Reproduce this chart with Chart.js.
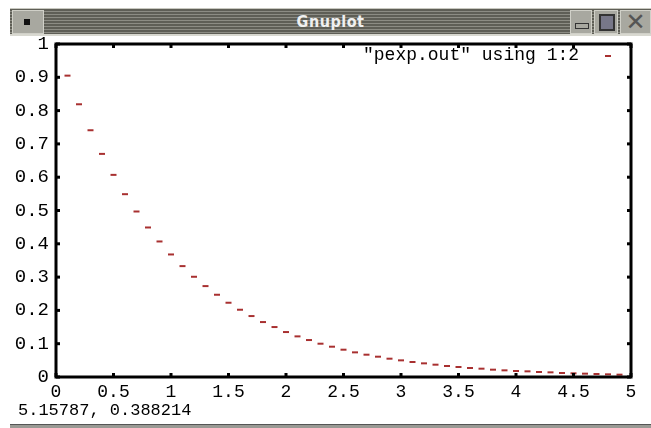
<!DOCTYPE html>
<html>
<head>
<meta charset="utf-8">
<script src="https://cdn.jsdelivr.net/npm/chart.js@4/dist/chart.umd.min.js"></script>
<style>
  body { margin: 0; background: #fff; width: 651px; height: 428px; overflow: hidden; position: relative; }
  #titlebar {
    position: absolute; left: 10px; top: 8px; width: 641px; height: 28px;
    background: repeating-linear-gradient(to bottom, #5e5e56 0px, #5e5e56 2px, #8c8c84 2px, #8c8c84 3px);
    border-top: 1px solid #c8c8c0; border-bottom: 2px solid #d8d8d0; box-sizing: border-box;
  }
  #titlebar .title {
    position: absolute; left: 0; right: 0; top: 3px; text-align: center;
    font: bold 16px "DejaVu Sans Condensed", "DejaVu Sans", sans-serif; color: #f0f0f0; letter-spacing: 0.5px;
  }
  .btn { position: absolute; top: 1px; height: 24px; background: #a8a8a0; border: 1px solid #d0d0c8; box-sizing: border-box; }
  #menu { left: 2px; width: 32px; }
  #menu::after { content: ""; position: absolute; left: 11px; top: 8px; width: 6px; height: 6px; background: #111; }
  #mini { left: 560px; width: 22px; }
  #mini::after { content: ""; position: absolute; left: 4px; bottom: 4px; width: 12px; height: 4px; border: 1px solid #333; }
  #maxi { left: 584px; width: 24px; }
  #maxi::after { content: ""; position: absolute; left: 4px; top: 3px; width: 12px; height: 13px; border: 2px solid #333; background: #778; }
  #close { left: 610px; width: 31px; font: 24px "DejaVu Sans", sans-serif; color: #555; text-align: center; line-height: 22px; }
  #legend { position: absolute; left: 363px; top: 45px; font: 18px "Liberation Mono", monospace; color: #000; }
  #status { position: absolute; left: 18px; top: 401px; font: 17px "Liberation Mono", monospace; color: #000; }
  #statusline { position: absolute; left: 10px; top: 424px; width: 641px; height: 4px; background: #9a9a94; border-top: 1px solid #555; }
  #wrap { position: absolute; left: 0; top: 0; width: 651px; height: 428px; }
</style>
</head>
<body>
<div id="wrap"><canvas id="chart" width="651" height="428"></canvas></div>
<div id="titlebar">
  <div class="title">Gnuplot</div>
  <div class="btn" id="menu"></div>
  <div class="btn" id="mini"></div>
  <div class="btn" id="maxi"></div>
  <div class="btn" id="close">✕</div>
</div>
<div id="legend">"pexp.out" using 1:2</div>
<div id="status">5.15787, 0.388214</div>
<div id="statusline"></div>
<script>
const xValues = [0.1, 0.2, 0.3, 0.4, 0.5, 0.6, 0.7, 0.8, 0.9, 1.0,
                 1.1, 1.2, 1.3, 1.4, 1.5, 1.6, 1.7, 1.8, 1.9, 2.0,
                 2.1, 2.2, 2.3, 2.4, 2.5, 2.6, 2.7, 2.8, 2.9, 3.0,
                 3.1, 3.2, 3.3, 3.4, 3.5, 3.6, 3.7, 3.8, 3.9, 4.0,
                 4.1, 4.2, 4.3, 4.4, 4.5, 4.6, 4.7, 4.8, 4.9];
const yValues = [0.905, 0.819, 0.741, 0.670, 0.607, 0.549, 0.497, 0.449, 0.407, 0.368,
                 0.333, 0.301, 0.273, 0.247, 0.223, 0.202, 0.183, 0.165, 0.150, 0.135,
                 0.122, 0.111, 0.100, 0.091, 0.082, 0.074, 0.067, 0.061, 0.055, 0.050,
                 0.045, 0.041, 0.037, 0.033, 0.030, 0.027, 0.025, 0.022, 0.020, 0.018,
                 0.017, 0.015, 0.014, 0.012, 0.011, 0.010, 0.009, 0.008, 0.007];
const xTicks = [0, 0.5, 1, 1.5, 2, 2.5, 3, 3.5, 4, 4.5, 5];
const yTicks = [0, 0.1, 0.2, 0.3, 0.4, 0.5, 0.6, 0.7, 0.8, 0.9, 1];

const points = xValues.map((x, i) => ({ x: x, y: yValues[i] }));

// frame + inward ticks like gnuplot, plus the legend sample
const gnuFrame = {
    id: 'gnuFrame',
    afterDraw(chart) {
        const ctx = chart.ctx;
        const a = chart.chartArea;
        const xs = chart.scales.x, ys = chart.scales.y;
        ctx.save();
        ctx.fillStyle = '#000';
        xTicks.forEach(t => {
            const px = xs.getPixelForValue(t);
            ctx.fillRect(px - 1.5, a.bottom - 4, 3, 4);
            ctx.fillRect(px - 1.5, a.top, 3, 4);
        });
        yTicks.forEach(t => {
            const py = ys.getPixelForValue(t);
            ctx.fillRect(a.left, py - 1.5, 4, 3);
            ctx.fillRect(a.right - 4, py - 1.5, 4, 3);
        });
        ctx.strokeStyle = '#000';
        ctx.lineWidth = 3;
        ctx.strokeRect(a.left, a.top, a.right - a.left, a.bottom - a.top);
        // legend sample dash
        ctx.fillStyle = '#a83030';
        ctx.fillRect(605, 55, 6, 2);
        ctx.restore();
    }
};

new Chart(document.getElementById('chart'), {
    type: 'scatter',
    data: {
        datasets: [{
            label: '"pexp.out" using 1:2',
            data: points,
            pointStyle: 'line',
            radius: 3,
            borderWidth: 2,
            borderColor: '#a83030',
            backgroundColor: '#a83030'
        }]
    },
    options: {
        responsive: false,
        animation: false,
        devicePixelRatio: 1,
        layout: { padding: { left: 0, top: 44, right: 20, bottom: 29 } },
        plugins: { legend: { display: false }, tooltip: { enabled: false } },
        scales: {
            x: {
                type: 'linear', min: 0, max: 5,
                afterBuildTicks: s => { s.ticks = xTicks.map(v => ({ value: v })); },
                afterFit: s => { s.height = 22; },
                grid: { display: false, drawTicks: false },
                border: { display: false },
                ticks: { color: '#000', padding: 4, maxRotation: 0, autoSkip: false,
                         callback: v => String(v),
                         font: { family: 'Liberation Mono', size: 18 } }
            },
            y: {
                type: 'linear', min: 0, max: 1,
                afterBuildTicks: s => { s.ticks = yTicks.map(v => ({ value: v })); },
                afterFit: s => { s.width = 56; },
                grid: { display: false, drawTicks: false },
                border: { display: false },
                ticks: { color: '#000', padding: 7, autoSkip: false,
                         callback: v => String(v),
                         font: { family: 'Liberation Mono', size: 19 } }
            }
        }
    },
    plugins: [gnuFrame]
});
</script>
</body>
</html>
